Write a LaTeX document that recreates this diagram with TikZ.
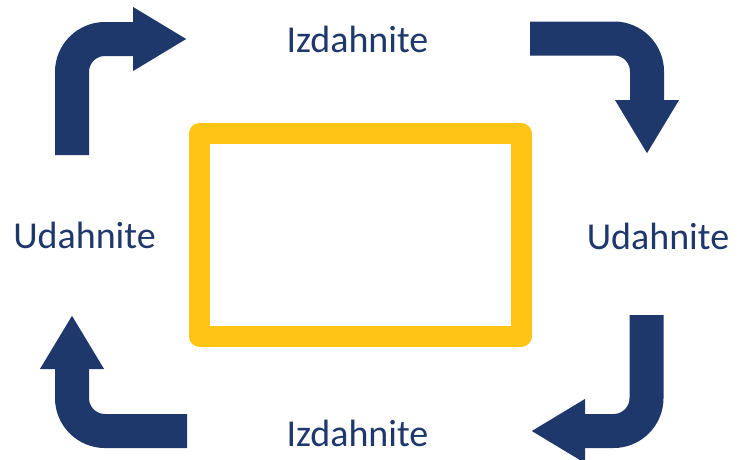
\documentclass[tikz,border=0pt]{standalone}
\usepackage{fontspec}
\setmainfont{Carlito}
\usetikzlibrary{arrows.meta}
\definecolor{navy}{HTML}{1F386C}
\definecolor{gold}{HTML}{FFC414}
\begin{document}
\begin{tikzpicture}[x=1pt,y=-1pt,
  turnarrow/.style={navy,line width=34pt,rounded corners=33pt,-{Triangle[length=54pt,width=60pt]}},
  word/.style={navy,anchor=base,inner sep=0pt,font=\fontsize{38}{40}\selectfont}]
\useasboundingbox (0,0) rectangle (743,459);
\node [draw=gold,line width=21pt,line join=round,minimum width=321.5pt,minimum height=202.5pt,inner sep=0pt] (box) at (360.25,234.75) {};
\node [word] (top) at (357.5,52) {Izdahnite};
\node [word] (bottom) at (357.5,446) {Izdahnite};
\node [word] (left) at (84.5,248) {Udahnite};
\node [word] (right) at (658,249) {Udahnite};
\draw [turnarrow] (72,155) |- (187,39);
\draw [turnarrow] (530,38.5) -| (647,154);
\draw [turnarrow] (646.5,315) |- (531,431);
\draw [turnarrow] (187,431) -| (72,315);
\end{tikzpicture}
\end{document}
